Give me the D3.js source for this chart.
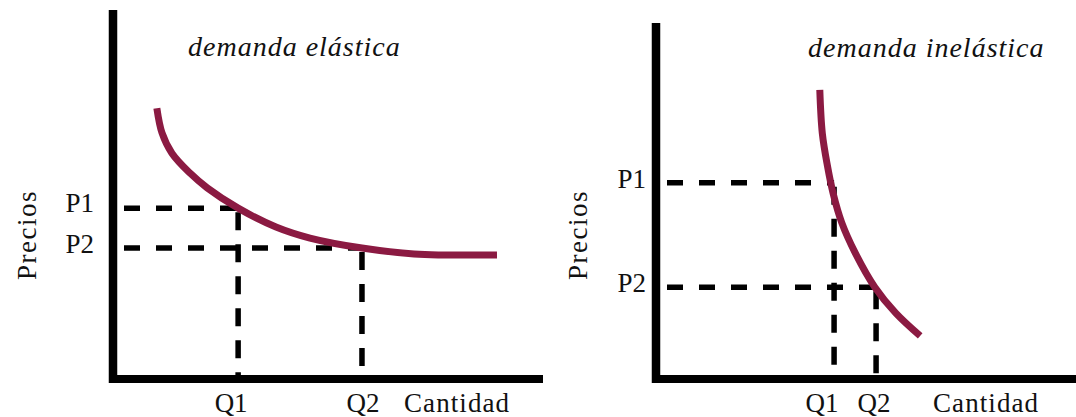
<!DOCTYPE html>
<html><head><meta charset="utf-8">
<script src="https://cdn.jsdelivr.net/npm/d3@7"></script>
<style>body{margin:0;background:#fff;} svg{display:block}</style>
</head><body><svg id="c" width="1076" height="417"></svg>
<script>
// ---- data ----
const panelTitles = ["demanda elástica", "demanda inelástica"];
const priceLabels = ["P1", "P2"];
const quantityLabels = ["Q1", "Q2"];
const yAxisTitle = "Precios";
const xAxisTitle = "Cantidad";

const elasticQ = [10.2, 11.4, 13.7, 17.9, 21.9, 29.1, 37.9, 45.8, 57.9, 70.0, 89.3];
const elasticP = [73.4, 66.7, 61.2, 55.8, 51.8, 46.3, 41.2, 38.2, 35.5, 33.9, 33.6];
const elasticQMarks = [29.1, 57.9];
const elasticPMarks = [46.3, 35.5];

const inelasticQ = [39.0, 39.6, 40.8, 42.2, 44.2, 47.4, 52.1, 57.1, 62.9];
const inelasticP = [81.2, 69.0, 60.0, 52.0, 44.0, 35.5, 25.8, 18.5, 12.1];
const inelasticQMarks = [42.4, 52.4];
const inelasticPMarks = [55.1, 25.8];

// ---- layout / style ----
const panels = [
  { q: elasticQ, p: elasticP, qm: elasticQMarks, pm: elasticPMarks, title: panelTitles[0],
    xr: [113, 543], yr: [379, 10], titleX: 188, titleY: 56,
    qDx: [-7, 1], cantX: 404, precX: 36, pLabelX: 94, pDy: [4, 5] },
  { q: inelasticQ, p: inelasticP, qm: inelasticQMarks, pm: inelasticPMarks, title: panelTitles[1],
    xr: [656, 1076], yr: [379, 23], titleX: 808, titleY: 57,
    qDx: [-12, -2], cantX: 933, precX: 587, pLabelX: 646, pDy: [5, 5] }
];
const curveColor = "#8b1a42";
const font = "'Liberation Serif','Times New Roman',serif";

const svg = d3.select("#c");

panels.forEach(pn => {
  const x = d3.scaleLinear().domain([0, 100]).range(pn.xr);
  const y = d3.scaleLinear().domain([0, 100]).range(pn.yr);
  const g = svg.append("g");

  // dashed guide lines
  pn.qm.forEach((qv, i) => {
    const pv = pn.pm[i];
    g.append("line")
      .attr("x1", x(0) + 5).attr("x2", x(qv))
      .attr("y1", y(pv)).attr("y2", y(pv))
      .attr("stroke", "#000").attr("stroke-width", 5.5)
      .attr("stroke-dasharray", "16,16").attr("stroke-dashoffset", -6);
    g.append("line")
      .attr("x1", x(qv)).attr("x2", x(qv))
      .attr("y1", y(pv)).attr("y2", y(0) - 3)
      .attr("stroke", "#000").attr("stroke-width", 5.5)
      .attr("stroke-dasharray", "18,14").attr("stroke-dashoffset", -4);
  });

  // axes (plain thick lines)
  g.append("g").attr("transform", `translate(0,${y(0)})`)
    .call(d3.axisBottom(x).tickValues([]).tickSizeOuter(0))
    .call(s => s.select(".domain").attr("stroke", "#000").attr("stroke-width", 8)
      .attr("d", `M${x(0) - 4},0H${x(100)}`));
  g.append("g").attr("transform", `translate(${x(0)},0)`)
    .call(d3.axisLeft(y).tickValues([]).tickSizeOuter(0))
    .call(s => s.select(".domain").attr("stroke", "#000").attr("stroke-width", 8.5)
      .attr("d", `M0,${y(100)}V${y(0) + 4}`));

  // demand curve
  const pts = pn.q.map((qv, i) => [qv, pn.p[i]]);
  g.append("path")
    .attr("d", d3.line().x(d => x(d[0])).y(d => y(d[1])).curve(d3.curveCatmullRom.alpha(0.5))(pts))
    .attr("fill", "none").attr("stroke", curveColor).attr("stroke-width", 7)
    .attr("stroke-linecap", "butt");

  // labels
  const txt = g.append("g").attr("font-family", font).attr("fill", "#111");
  txt.append("text").attr("x", pn.titleX).attr("y", pn.titleY)
    .attr("font-size", 28).attr("font-style", "italic").attr("letter-spacing", 1)
    .text(pn.title);
  pn.pm.forEach((pv, i) => {
    txt.append("text").attr("x", pn.pLabelX).attr("y", y(pv) + pn.pDy[i])
      .attr("text-anchor", "end").attr("font-size", 27).text(priceLabels[i]);
  });
  pn.qm.forEach((qv, i) => {
    txt.append("text").attr("x", x(qv) + pn.qDx[i]).attr("y", 412)
      .attr("text-anchor", "middle").attr("font-size", 27).text(quantityLabels[i]);
  });
  txt.append("text").attr("x", pn.cantX).attr("y", 412)
    .attr("font-size", 27).attr("textLength", 105).text(xAxisTitle);
  txt.append("text").attr("transform", `translate(${pn.precX},235) rotate(-90)`)
    .attr("text-anchor", "middle").attr("font-size", 27).attr("letter-spacing", 1.5)
    .text(yAxisTitle);
});
</script></body></html>
